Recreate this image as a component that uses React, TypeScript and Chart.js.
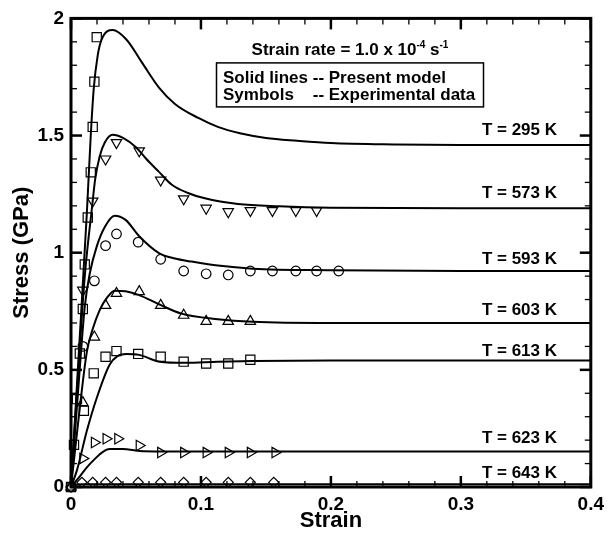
import React, { useEffect, useRef } from "react";
import { Chart, registerables } from "chart.js";
Chart.register(...registerables);

// ---------- tick values / labels ----------
const xTickValues = [0, 0.1, 0.2, 0.3, 0.4];
const xTickLabels = ["0", "0.1", "0.2", "0.3", "0.4"];
const xMinorTicks = [0.02, 0.04, 0.06, 0.08, 0.12, 0.14, 0.16, 0.18, 0.22, 0.24, 0.26, 0.28, 0.32, 0.34, 0.36, 0.38];
const yTickValues = [0, 0.5, 1, 1.5, 2];
const yTickLabels = ["0", "0.5", "1", "1.5", "2"];
const yMinorTicks = [0.1, 0.2, 0.3, 0.4, 0.6, 0.7, 0.8, 0.9, 1.1, 1.2, 1.3, 1.4, 1.6, 1.7, 1.8, 1.9];

// ---------- temperatures / labels ----------
const temperatures = ["295", "573", "593", "603", "613", "623", "643"];
const labelStrain = 0.374;
const labelStress = [1.503, 1.234, 0.952, 0.733, 0.56, 0.189, 0.038];

// ---------- model curves (solid lines) ----------
const model295Strain = [0, 0.0061, 0.0122, 0.0152, 0.0175, 0.0205, 0.0236, 0.032, 0.0426, 0.0548, 0.0677, 0.08, 0.098, 0.113, 0.13, 0.15, 0.174, 0.2, 0.25, 0.3, 0.4];
const model295Stress = [0, 0.58, 1.17, 1.5, 1.7, 1.84, 1.91, 1.95, 1.91, 1.81, 1.705, 1.635, 1.575, 1.537, 1.51, 1.49, 1.478, 1.468, 1.462, 1.46, 1.46];

const model573Strain = [0, 0.0068, 0.0106, 0.0167, 0.0185, 0.022, 0.026, 0.032, 0.04, 0.05, 0.058, 0.0677, 0.0776, 0.09, 0.103, 0.1285, 0.16, 0.2, 0.3, 0.4];
const model573Stress = [0, 0.6, 0.9, 1.22, 1.31, 1.41, 1.47, 1.503, 1.49, 1.45, 1.4, 1.345, 1.29, 1.255, 1.232, 1.208, 1.198, 1.192, 1.19, 1.19];

const model593Strain = [0, 0.006, 0.0106, 0.0144, 0.02, 0.026, 0.0335, 0.042, 0.0525, 0.0677, 0.08, 0.093, 0.113, 0.14, 0.2, 0.3, 0.4];
const model593Stress = [0, 0.45, 0.77, 0.91, 1.03, 1.11, 1.158, 1.14, 1.07, 0.998, 0.975, 0.962, 0.945, 0.932, 0.925, 0.922, 0.922];

const model603Strain = [0, 0.006, 0.0122, 0.0167, 0.022, 0.028, 0.0335, 0.042, 0.052, 0.0677, 0.085, 0.113, 0.14, 0.2, 0.4];
const model603Stress = [0, 0.3, 0.577, 0.674, 0.754, 0.81, 0.838, 0.835, 0.82, 0.78, 0.74, 0.716, 0.705, 0.7, 0.7];

const model613Strain = [0, 0.0046, 0.0122, 0.0198, 0.0297, 0.036, 0.0426, 0.0525, 0.068, 0.088, 0.113, 0.14, 0.2, 0.4];
const model613Stress = [0, 0.072, 0.24, 0.38, 0.522, 0.56, 0.568, 0.564, 0.535, 0.53, 0.535, 0.538, 0.54, 0.54];

const model623Strain = [0, 0.0068, 0.0122, 0.018, 0.024, 0.0297, 0.04, 0.0525, 0.07, 0.4];
const model623Stress = [0, 0.045, 0.084, 0.118, 0.148, 0.162, 0.162, 0.154, 0.152, 0.152];

const model643Strain = [0, 0.003, 0.008, 0.4];
const model643Stress = [0, 0.01, 0.012, 0.012];

// ---------- experimental data (symbols) ----------
const exp295Strain = [0.0023, 0.0046, 0.0068, 0.0091, 0.0106, 0.0129, 0.0152, 0.0167, 0.018, 0.0198];
const exp295Stress = [0.18, 0.375, 0.57, 0.76, 0.95, 1.15, 1.343, 1.537, 1.73, 1.92];

const exp573Strain = [0.0091, 0.0167, 0.0266, 0.035, 0.0525, 0.069, 0.0867, 0.104, 0.121, 0.138, 0.155, 0.173, 0.189];
const exp573Stress = [0.84, 1.22, 1.4, 1.47, 1.435, 1.31, 1.23, 1.19, 1.175, 1.18, 1.18, 1.18, 1.18];

const exp593Strain = [0, 0.0091, 0.018, 0.0266, 0.035, 0.0517, 0.069, 0.0867, 0.104, 0.121, 0.138, 0.155, 0.173, 0.189, 0.206];
const exp593Stress = [0, 0.6, 0.88, 1.03, 1.08, 1.045, 0.972, 0.922, 0.91, 0.905, 0.922, 0.922, 0.922, 0.922, 0.922];

const exp603Strain = [0, 0.0091, 0.018, 0.0266, 0.035, 0.0525, 0.069, 0.0867, 0.104, 0.121, 0.138];
const exp603Stress = [0, 0.36, 0.64, 0.775, 0.826, 0.834, 0.775, 0.733, 0.707, 0.707, 0.707];

const exp613Strain = [0, 0.0099, 0.0175, 0.0266, 0.035, 0.0517, 0.069, 0.0867, 0.104, 0.121, 0.138];
const exp613Stress = [0, 0.325, 0.485, 0.556, 0.58, 0.568, 0.556, 0.535, 0.527, 0.527, 0.543];

const exp623Strain = [0.0091, 0.018, 0.027, 0.036, 0.0525, 0.069, 0.0867, 0.104, 0.121, 0.138, 0.157];
const exp623Stress = [0.122, 0.19, 0.206, 0.206, 0.177, 0.147, 0.147, 0.147, 0.147, 0.147, 0.147];

const exp643Strain = [0, 0.0084, 0.0167, 0.0266, 0.035, 0.0517, 0.069, 0.0867, 0.104, 0.121, 0.138, 0.156];
const exp643Stress = [0, 0.02, 0.02, 0.02, 0.02, 0.02, 0.02, 0.02, 0.02, 0.02, 0.02, 0.02];

const FONT = '"Liberation Sans", Arial, Helvetica, sans-serif';

const zip = (xs: number[], ys: number[]) => xs.map((x, i) => ({ x, y: ys[i] }));

const modelSets = [
  [model295Strain, model295Stress],
  [model573Strain, model573Stress],
  [model593Strain, model593Stress],
  [model603Strain, model603Stress],
  [model613Strain, model613Stress],
  [model623Strain, model623Stress],
  [model643Strain, model643Stress],
];

const expSets: [number[], number[], string, number, number][] = [
  [exp295Strain, exp295Stress, "rect", 0, 6.5],
  [exp573Strain, exp573Stress, "triangle", 180, 6],
  [exp593Strain, exp593Stress, "circle", 0, 4.8],
  [exp603Strain, exp603Stress, "triangle", 0, 6],
  [exp613Strain, exp613Stress, "rect", 0, 6.5],
  [exp623Strain, exp623Stress, "triangle", 90, 6],
  [exp643Strain, exp643Stress, "rectRot", 0, 5],
];

const decorPlugin = {
  id: "decor",
  afterDatasetsDraw(chart: any) {
    const { ctx, chartArea: a, scales } = chart;
    const xs = scales.x;
    const ys = scales.y;
    ctx.save();
    ctx.strokeStyle = "#000";
    ctx.fillStyle = "#000";
    const seg = (x1: number, y1: number, x2: number, y2: number) => {
      ctx.beginPath();
      ctx.moveTo(x1, y1);
      ctx.lineTo(x2, y2);
      ctx.stroke();
    };
    const MAJ = 11;
    const MIN = 6;
    ctx.lineWidth = 1.3;
    for (const v of xMinorTicks) {
      const p = xs.getPixelForValue(v);
      seg(p, a.bottom, p, a.bottom - MIN);
      seg(p, a.top, p, a.top + MIN);
    }
    for (const v of yMinorTicks) {
      const p = ys.getPixelForValue(v);
      seg(a.left, p, a.left + MIN, p);
      seg(a.right, p, a.right - MIN, p);
    }
    ctx.lineWidth = 2.5;
    for (const v of xTickValues) {
      const p = xs.getPixelForValue(v);
      seg(p, a.bottom, p, a.bottom - MAJ);
      seg(p, a.top, p, a.top + MAJ);
    }
    for (const v of yTickValues) {
      const p = ys.getPixelForValue(v);
      seg(a.left, p, a.left + MAJ, p);
      seg(a.right, p, a.right - MAJ, p);
    }
    // frame
    ctx.lineWidth = 3;
    ctx.strokeRect(a.left, a.top, a.right - a.left, a.bottom - a.top);

    // temperature labels
    ctx.font = `bold 17px ${FONT}`;
    ctx.textAlign = "right";
    ctx.textBaseline = "alphabetic";
    temperatures.forEach((t, i) => {
      ctx.fillText(`T = ${t} K`, xs.getPixelForValue(labelStrain), ys.getPixelForValue(labelStress[i]));
    });

    // strain rate heading with superscripts
    const big = `bold 17px ${FONT}`;
    const small = `bold 10px ${FONT}`;
    const parts: [string, boolean][] = [
      ["Strain rate = 1.0 x 10", false],
      ["-4", true],
      [" s", false],
      ["-1", true],
    ];
    let total = 0;
    for (const [s, sup] of parts) {
      ctx.font = sup ? small : big;
      total += ctx.measureText(s).width;
    }
    const cx = a.left + 279;
    const base = a.top + 37;
    let px = cx - total / 2;
    ctx.textAlign = "left";
    for (const [s, sup] of parts) {
      ctx.font = sup ? small : big;
      ctx.fillText(s, px, sup ? base - 7 : base);
      px += ctx.measureText(s).width;
    }

    // legend box
    ctx.lineWidth = 1.5;
    ctx.strokeRect(a.left + 145.5, a.top + 44.5, 267, 44);
    ctx.font = `bold 17px ${FONT}`;
    const lx = a.left + 152;
    ctx.fillText("Solid lines -- Present model", lx, a.top + 65);
    ctx.fillText("Symbols", lx, a.top + 82);
    const off = ctx.measureText("Solid lines ").width;
    ctx.fillText("-- Experimental data", lx + off, a.top + 82);
    ctx.restore();
  },
};

export default function App() {
  const ref = useRef<HTMLCanvasElement | null>(null);
  useEffect(() => {
    if (!ref.current) return;
    const datasets: any[] = [];
    modelSets.forEach(([xs, ys], i) => {
      datasets.push({
        label: `Model T = ${temperatures[i]} K`,
        data: zip(xs, ys),
        borderColor: "#000",
        borderWidth: 2,
        pointRadius: 0,
        fill: false,
        cubicInterpolationMode: "monotone",
        showLine: true,
      });
    });
    expSets.forEach(([xs, ys, style, rot, r], i) => {
      datasets.push({
        label: `Experiment T = ${temperatures[i]} K`,
        data: zip(xs, ys),
        showLine: false,
        pointStyle: style,
        pointRotation: rot,
        pointRadius: r,
        pointBorderWidth: 1.2,
        pointBorderColor: "#000",
        pointBackgroundColor: "rgba(0,0,0,0)",
        borderColor: "#000",
        clip: false,
      });
    });
    const tickFont = { family: FONT, size: 19, weight: "bold" as const };
    const titleFont = { family: FONT, size: 22, weight: "bold" as const };
    const chart = new Chart(ref.current, {
      type: "line",
      data: { datasets },
      plugins: [decorPlugin],
      options: {
        responsive: false,
        animation: false,
        devicePixelRatio: 1,
        layout: { padding: { top: 12, right: 13, left: 0, bottom: 0 } },
        plugins: { legend: { display: false }, tooltip: { enabled: false } },
        scales: {
          x: {
            type: "linear",
            min: 0,
            max: 0.4,
            afterBuildTicks: (s: any) => {
              s.ticks = xTickValues.map((v) => ({ value: v }));
            },
            ticks: {
              font: tickFont,
              color: "#000",
              padding: 6,
              maxRotation: 0,
              autoSkip: false,
              callback: (_v: any, i: number) => xTickLabels[i],
            },
            grid: { display: false, drawTicks: false },
            border: { display: false },
            title: { display: true, text: "Strain", font: titleFont, color: "#000", padding: { top: 0, bottom: 4 } },
            afterFit: (s: any) => {
              s.height = 51;
            },
          },
          y: {
            type: "linear",
            min: 0,
            max: 2,
            afterBuildTicks: (s: any) => {
              s.ticks = yTickValues.map((v) => ({ value: v }));
            },
            ticks: {
              font: tickFont,
              color: "#000",
              padding: 7,
              autoSkip: false,
              callback: (_v: any, i: number) => yTickLabels[i],
            },
            grid: { display: false, drawTicks: false },
            border: { display: false },
            title: { display: true, text: "Stress (GPa)", font: titleFont, color: "#000", padding: { top: 9, bottom: 0 } },
            afterFit: (s: any) => {
              s.width = 71;
            },
          },
        },
      } as any,
    });
    return () => chart.destroy();
  }, []);
  return (
    <div style={{ position: "fixed", left: 0, top: 0, width: 610, height: 538, background: "#fff" }}>
      <canvas ref={ref} width={610} height={538} style={{ width: 610, height: 538 }} />
    </div>
  );
}
